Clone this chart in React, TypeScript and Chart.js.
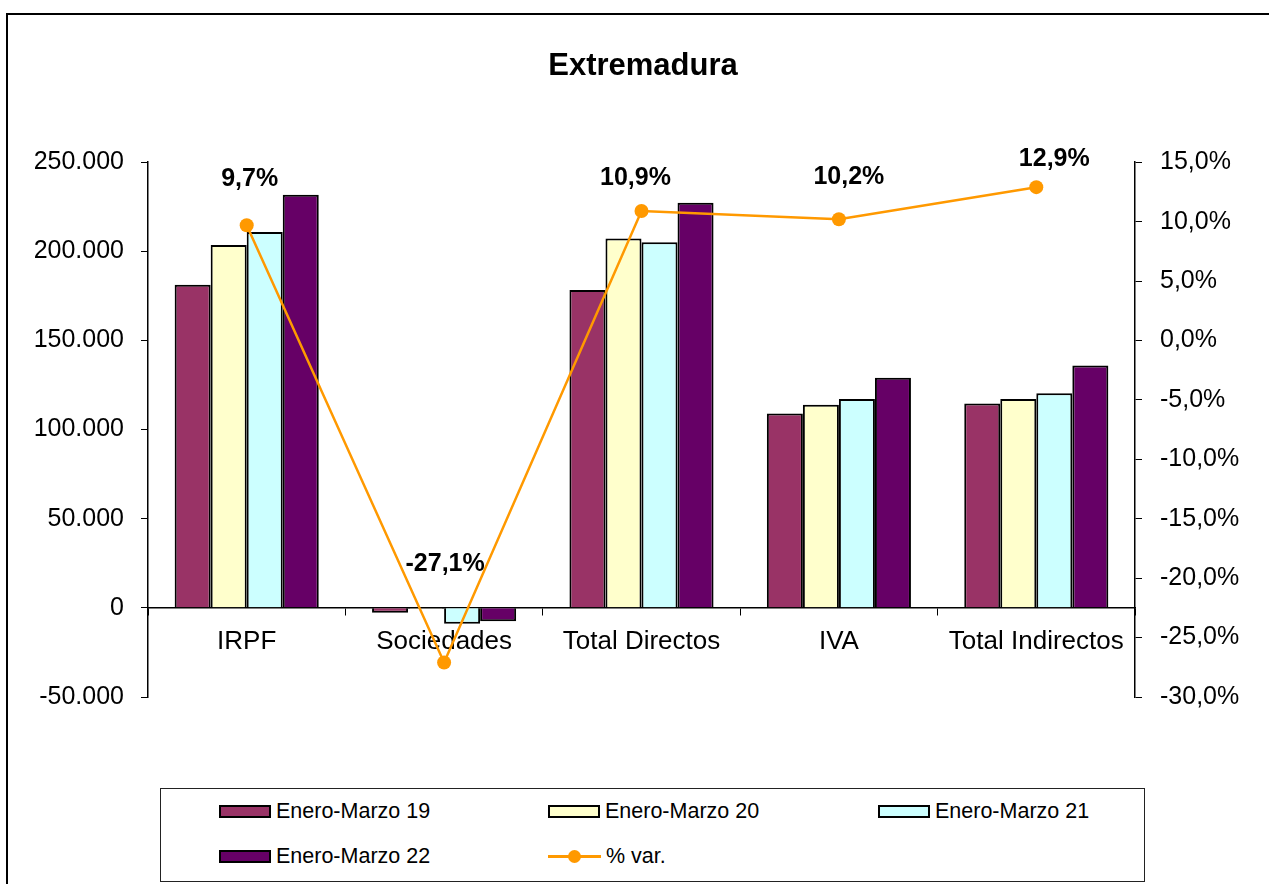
import React, { useEffect, useRef } from 'react';
import { Chart, registerables } from 'chart.js';

Chart.register(...registerables);

const CATEGORIES = ['IRPF', 'Sociedades', 'Total Directos', 'IVA', 'Total Indirectos'];
const SERIES_LABELS = ['Enero-Marzo 19', 'Enero-Marzo 20', 'Enero-Marzo 21', 'Enero-Marzo 22'];
const EM19 = [181300, -2800, 178300, 109000, 114600];
const EM20 = [203500, -500, 207200, 114000, 117200];
const EM21 = [210900, -8900, 205100, 117200, 120400];
const EM22 = [231700, -7500, 227300, 129100, 136000];
const PCT_LABEL = '% var.';
const PCT_VAR = [9.7, -27.1, 10.9, 10.2, 12.9];
const LEFT_TICKS = { min: -50000, max: 250000, step: 50000 };
const RIGHT_TICKS = { min: -30, max: 15, step: 5 };

const BAR_COLORS = ['#993366', '#FFFFCC', '#CCFFFF', '#660066'];
const LINE_COLOR = '#FF9900';
// label placement relative to each point (style only)
const LABEL_OFFSETS = [[3, -46], [1, -98], [-6, -33], [10, -42], [18, -28]];
const FONT = '"Liberation Sans", Arial, Helvetica, sans-serif';

const fmtThousands = (v: number) => {
  const s = Math.abs(v).toString().replace(/\B(?=(\d{3})+(?!\d))/g, '.');
  return (v < 0 ? '-' : '') + s;
};
const fmtPct = (v: number) => v.toFixed(1).replace('.', ',') + '%';

const pctLabelPlugin = {
  id: 'pctLabels',
  afterDatasetsDraw(chart: any) {
    const meta = chart.getDatasetMeta(4);
    const ctx = chart.ctx;
    ctx.save();
    ctx.font = `bold 25px ${FONT}`;
    ctx.fillStyle = '#000';
    ctx.textAlign = 'center';
    ctx.textBaseline = 'middle';
    meta.data.forEach((pt: any, i: number) => {
      const [dx, dy] = LABEL_OFFSETS[i];
      ctx.fillText(fmtPct(PCT_VAR[i]), pt.x + dx, pt.y + dy);
    });
    ctx.restore();
  },
};

export default function App() {
  const ref = useRef<HTMLCanvasElement | null>(null);

  useEffect(() => {
    if (!ref.current) return;
    const bars = [EM19, EM20, EM21, EM22];
    const chart = new Chart(ref.current, {
      type: 'bar',
      data: {
        labels: CATEGORIES,
        datasets: [
          ...bars.map((d, i) => ({
            type: 'bar' as const,
            label: SERIES_LABELS[i],
            data: d,
            backgroundColor: BAR_COLORS[i],
            borderColor: '#000',
            borderWidth: 2,
            yAxisID: 'y',
            order: 2,
            categoryPercentage: 0.73,
            barPercentage: 1,
          })),
          {
            type: 'line' as const,
            label: PCT_LABEL,
            data: PCT_VAR,
            yAxisID: 'y1',
            borderColor: LINE_COLOR,
            backgroundColor: LINE_COLOR,
            borderWidth: 2.5,
            pointRadius: 7,
            pointHoverRadius: 7,
            pointBackgroundColor: LINE_COLOR,
            pointBorderWidth: 0,
            tension: 0,
            order: 1,
          },
        ],
      } as any,
      options: {
        responsive: false,
        animation: false,
        devicePixelRatio: 1,
        layout: { padding: { left: 0, right: 0, top: 0, bottom: 187 } },
        plugins: {
          legend: { display: false },
          tooltip: { enabled: false },
          title: {
            display: true,
            text: 'Extremadura',
            color: '#000',
            font: { family: FONT, size: 31, weight: 'bold' },
            padding: { top: 34, bottom: 77 },
          },
        },
        scales: {
          x: {
            position: { y: 0 } as any,
            grid: { display: true, drawOnChartArea: false, drawTicks: true, tickLength: 7, color: '#000', offset: true },
            border: { display: true, color: '#000', width: 1.5 },
            ticks: { color: '#000', font: { family: FONT, size: 26 }, padding: 11, maxRotation: 0, autoSkip: false },
          },
          y: {
            position: 'left',
            min: LEFT_TICKS.min,
            max: LEFT_TICKS.max,
            ticks: {
              stepSize: LEFT_TICKS.step,
              callback: (v: any) => fmtThousands(Number(v)),
              color: '#000',
              font: { family: FONT, size: 25 },
              padding: 17,
            },
            grid: { drawOnChartArea: false, drawTicks: true, tickLength: 7, color: '#000' },
            border: { display: true, color: '#000', width: 1.5 },
            afterFit: (s: any) => { s.width = 141; },
          },
          y1: {
            position: 'right',
            min: RIGHT_TICKS.min,
            max: RIGHT_TICKS.max,
            ticks: {
              stepSize: RIGHT_TICKS.step,
              callback: (v: any) => fmtPct(Number(v)),
              color: '#000',
              font: { family: FONT, size: 25 },
              padding: 18,
            },
            grid: { drawOnChartArea: false, drawTicks: true, tickLength: 7, color: '#000' },
            border: { display: true, color: '#000', width: 1.5 },
            afterFit: (s: any) => { s.width = 144; },
          },
        },
      } as any,
      plugins: [pctLabelPlugin],
    });
    return () => chart.destroy();
  }, []);

  const legendItems = [
    ...SERIES_LABELS.map((l, i) => ({ label: l, color: BAR_COLORS[i], kind: 'bar' })),
    { label: PCT_LABEL, color: LINE_COLOR, kind: 'line' },
  ];
  const colX = [58, 387, 717];
  const rowY = [22, 67];

  return (
    <div style={{ position: 'fixed', left: 0, top: 0, width: 1269, height: 884, overflow: 'hidden', background: '#fff' }}>
      <div style={{ position: 'absolute', left: 6, top: 13, width: 2000, height: 2000, border: '2px solid #000' }} />
      <canvas ref={ref} width={1272} height={870} style={{ position: 'absolute', left: 7, top: 14, width: 1272, height: 870 }} />
      <div
        style={{
          position: 'absolute', left: 160, top: 788, width: 985, height: 94,
          border: '1px solid #222', boxSizing: 'border-box', fontFamily: FONT, fontSize: 21.5, color: '#000', background: '#fff',
        }}
      >
        {legendItems.map((it, i) => (
          <div
            key={it.label}
            style={{
              position: 'absolute', left: colX[i % 3], top: rowY[Math.floor(i / 3)] - 13, height: 26,
              display: 'flex', alignItems: 'center', whiteSpace: 'nowrap',
            }}
          >
            {it.kind === 'bar' ? (
              <div style={{ width: 52, height: 13, boxSizing: 'border-box', border: '2px solid #000', background: it.color }} />
            ) : (
              <div style={{ width: 53, height: 13, position: 'relative' }}>
                <div style={{ position: 'absolute', left: 0, top: 5, width: 53, height: 3, background: it.color }} />
                <div style={{ position: 'absolute', left: 20, top: 0, width: 13, height: 13, borderRadius: '50%', background: it.color }} />
              </div>
            )}
            <span style={{ marginLeft: 5 }}>{it.label}</span>
          </div>
        ))}
      </div>
    </div>
  );
}
